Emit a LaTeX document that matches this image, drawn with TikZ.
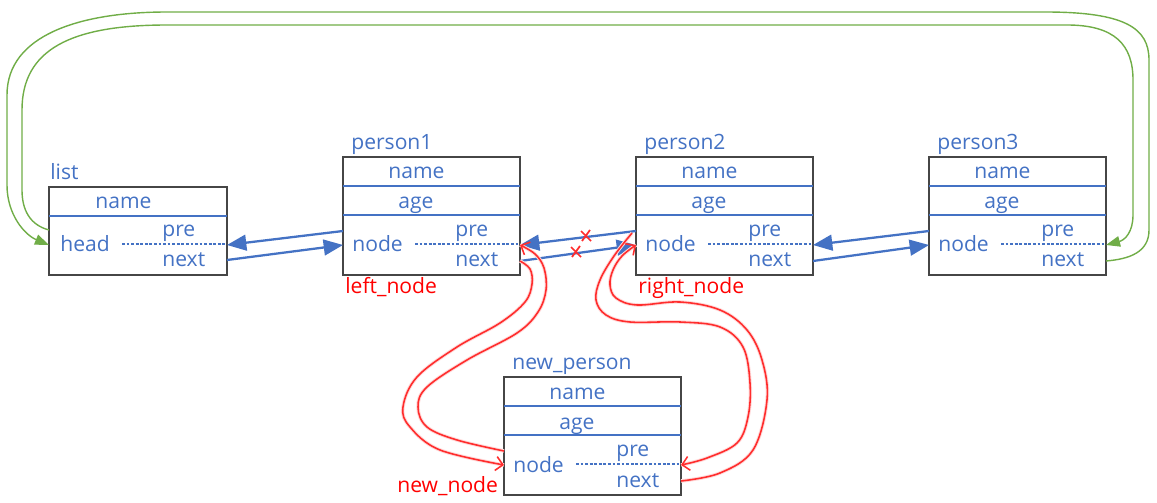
\documentclass[tikz,border=0pt]{standalone}
\usepackage{fontspec}
\setmainfont{Open Sans}
\usetikzlibrary{arrows.meta}

\definecolor{myblue}{RGB}{68,114,196}
\definecolor{mygreen}{RGB}{112,173,71}
\definecolor{myred}{RGB}{255,45,45}
\definecolor{boxgray}{RGB}{70,70,70}

\tikzset{
	fld/.style={text=myblue, font=\fontsize{12}{14}\selectfont, inner sep=0pt, anchor=base west},
	redtxt/.style={text=red, font=\fontsize{12}{14}\selectfont, inner sep=0pt, anchor=base west},
	frame/.style={draw=boxgray, line width=0.9pt},
	divline/.style={myblue, line width=0.9pt},
	dotline/.style={myblue, line width=0.8pt, dash pattern=on 1.6pt off 1pt},
	bluearr/.style={myblue, line width=1.3pt, -{Triangle[length=11pt,width=9pt]}},
	greenarr/.style={mygreen, line width=0.8pt, -{Triangle[length=8pt,width=6pt]}},
	redarr/.style={myred, line width=0.9pt, -{Straight Barb[length=4pt,width=8pt]},
		preaction={draw=myred!18, line width=2pt, arrows=-}},
	cut/.style={myred, line width=1pt}
}

\begin{document}
\begin{tikzpicture}[x=0.02cm, y=-0.02cm]
	\useasboundingbox (0,0) rectangle (1157,503);

	% list
	\draw[frame] (49,187) rectangle (227,275);
	\draw[divline] (49,216) -- (227,216);
	\draw[dotline] (122,244) -- (227,244);
	\node[fld] (list) at (50,180) {list};
	\node[fld] (list-name) at (95,209) {name};
	\node[fld] (list-head) at (60,252) {head};
	\node[fld] (list-pre) at (162,237) {pre};
	\node[fld] (list-next) at (162,267) {next};
	\coordinate (list-l) at (49,245);
	\coordinate (list-lu) at (49,230);
	\coordinate (list-r) at (227,245);
	\coordinate (list-rd) at (227,260);

	% person boxes
	\foreach \n/\t/\x/\y in {p1/person1/343/157, p2/person2/636/157, p3/person3/929/157, np/new\_person/504/377}{
		\draw[frame] (\x,\y) rectangle (\x+177,\y+118);
		\draw[divline] (\x,\y+29) -- (\x+177,\y+29);
		\draw[divline] (\x,\y+58) -- (\x+177,\y+58);
		\draw[dotline] (\x+72,\y+87) -- (\x+177,\y+87);
		\node[fld] (\n) at (\x+8,\y-7) {\t};
		\node[fld] (\n-name) at (\x+45,\y+22) {name};
		\node[fld] (\n-age) at (\x+55,\y+52) {age};
		\node[fld] (\n-node) at (\x+9,\y+95) {node};
		\node[fld] (\n-pre) at (\x+112,\y+80) {pre};
		\node[fld] (\n-next) at (\x+112,\y+110) {next};
		\coordinate (\n-l) at (\x,\y+88);
		\coordinate (\n-lu) at (\x,\y+74);
		\coordinate (\n-r) at (\x+177,\y+88);
		\coordinate (\n-rd) at (\x+177,\y+104);
	}

	\node[redtxt] (left) at (345,294) {left\_node};
	\node[redtxt] (right) at (638,294) {right\_node};
	\node[redtxt] (new) at (397,492) {new\_node};

	% blue links
	\draw[bluearr] (p1-lu) -- (list-r);
	\draw[bluearr] (list-rd) -- (p1-l);
	\draw[bluearr] (p2-lu) -- (p1-r);
	\draw[bluearr] (p1-rd) -- (p2-l);
	\draw[bluearr] (p3-lu) -- (p2-r);
	\draw[bluearr] (p2-rd) -- (p3-l);

	% green loop
	\draw[greenarr] (p3-rd) .. controls (1130,259) and (1149,252) .. (1149,230) -- (1149,60)
		.. controls (1149,28) and (1125,12) .. (1045,12) -- (167,12)
		.. controls (80,12) and (7,35) .. (7,95) -- (7,185)
		.. controls (7,215) and (25,235) .. (list-l);
	\draw[greenarr] (list-lu) .. controls (30,225) and (22,210) .. (22,190) -- (22,110)
		.. controls (22,50) and (70,25) .. (167,25) -- (1067,25)
		.. controls (1115,25) and (1133,45) .. (1133,80) -- (1133,215)
		.. controls (1133,232) and (1125,240) .. (p3-r);

	% red
	\draw[cut] (581,231) -- (591,241) (582,241) -- (590,230);
	\draw[cut] (571,247) -- (581,257) (572,257) -- (580,246);
	\draw[redarr] plot[smooth, tension=0.6] coordinates {(p1-rd) (530,269) (532,284) (525,302) (500,323) (457,347) (417,377) (403,407) (410,427) (440,450) (np-l)};
	\draw[redarr] plot[smooth, tension=0.6] coordinates {(np-lu) (457,440) (427,427) (418,407) (427,387) (467,360) (517,333) (538,312) (546,290) (544,268) (535,254) (p1-r)};
	\draw[redarr] plot[smooth, tension=0.6] coordinates {(632,233) (614,256) (600,280) (596,300) (606,315) (630,322) (680,322) (720,327) (743,347) (750,383) (748,417) (737,443) (707,458) (np-r)};
	\draw[redarr] plot[smooth, tension=0.6] coordinates {(np-rd) (720,473) (753,450) (767,400) (762,360) (747,330) (720,310) (680,302) (637,305) (616,298) (610,285) (613,270) (622,256) (p2-l)};
\end{tikzpicture}
\end{document}
